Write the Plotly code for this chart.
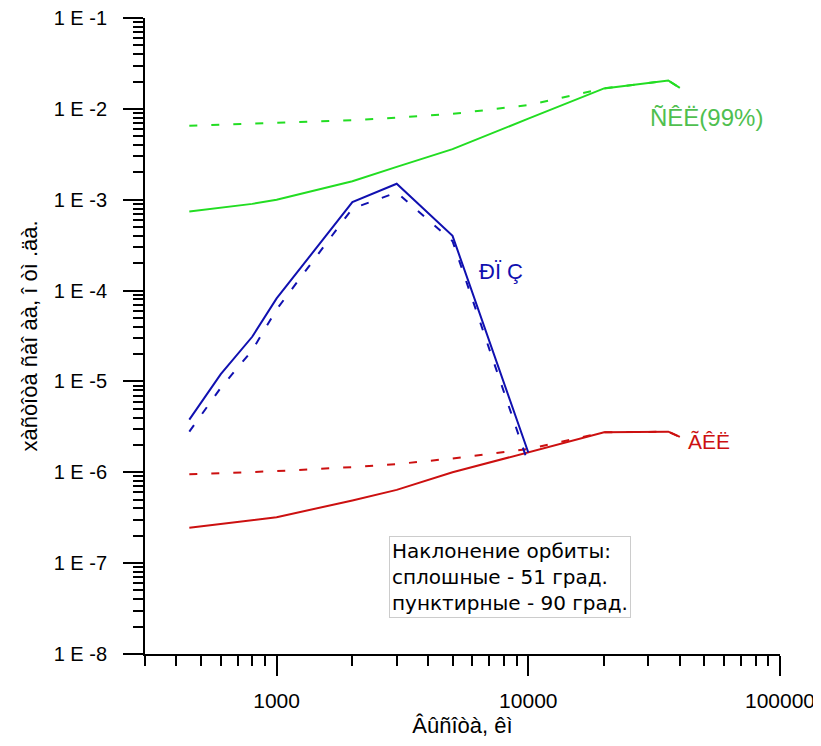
import plotly.graph_objects as go
import numpy as np

# Altitude, km
alt = [450, 600, 800, 1000, 2000, 3000, 5000, 10000, 20000, 36000, 40000]
alt_short = [450, 600, 800, 1000, 2000, 3000, 5000, 10000]
alt_dash_g = [450, 1000, 2000, 3000, 5000, 10000, 20000, 36000, 40000]

# Green (SKL 99%)
green_51 = [7.4e-4, 8.2e-4, 9.0e-4, 1.0e-3, 1.6e-3, 2.3e-3, 3.6e-3, 7.8e-3, 1.68e-2, 2.05e-2, 1.7e-2]
green_90 = [6.5e-3, 7.0e-3, 7.5e-3, 8.0e-3, 8.8e-3, 1.1e-2, 1.68e-2, 2.05e-2, 1.7e-2]
# Red (GKL)
red_51 = [2.45e-7, 2.7e-7, 2.95e-7, 3.2e-7, 4.9e-7, 6.4e-7, 1.0e-6, 1.65e-6, 2.75e-6, 2.8e-6, 2.45e-6]
red_90 = [9.5e-7, 1.03e-6, 1.14e-6, 1.23e-6, 1.42e-6, 1.8e-6, 2.75e-6, 2.8e-6, 2.45e-6]
# Blue (RPZ)
blue_51 = [3.8e-6, 1.2e-5, 3.1e-5, 8.2e-5, 9.4e-4, 1.5e-3, 4.0e-4, 1.65e-6]
blue_90 = [2.8e-6, 8.5e-6, 2.2e-5, 6.2e-5, 8.0e-4, 1.2e-3, 3.5e-4, 1.25e-6]

y_tickvals = [1e-8, 1e-7, 1e-6, 1e-5, 1e-4, 1e-3, 1e-2, 1e-1]
y_ticktext = ["1 E -8", "1 E -7", "1 E -6", "1 E -5", "1 E -4", "1 E -3", "1 E -2", "1 E -1"]
x_tickvals = [1000, 10000, 100000]
x_ticktext = ["1000", "10000", "100000"]

GREEN = "#22dd22"
GREEN_T = "#4fbf4f"
BLUE = "#1010b0"
RED = "#cc1010"
DASH = "8px,14px"
NARROW = "Liberation Sans Narrow, Arial Narrow, Liberation Sans, sans-serif"

fig = go.Figure()
fig.add_trace(go.Scatter(x=alt_dash_g, y=green_90, mode="lines", line=dict(color=GREEN, width=2, dash=DASH)))
fig.add_trace(go.Scatter(x=alt, y=green_51, mode="lines", line=dict(color=GREEN, width=2)))
fig.add_trace(go.Scatter(x=alt_dash_g, y=red_90, mode="lines", line=dict(color=RED, width=2, dash=DASH)))
fig.add_trace(go.Scatter(x=alt, y=red_51, mode="lines", line=dict(color=RED, width=2)))
fig.add_trace(go.Scatter(x=alt_short, y=blue_90, mode="lines", line=dict(color=BLUE, width=2, dash=DASH)))
fig.add_trace(go.Scatter(x=alt_short, y=blue_51, mode="lines", line=dict(color=BLUE, width=2)))

fig.update_layout(
    width=813, height=730,
    margin=dict(l=137, r=41, t=10, b=84),
    paper_bgcolor="white", plot_bgcolor="white",
    showlegend=False,
    font=dict(family=NARROW, color="black"),
)
fig.update_xaxes(
    type="log", range=[np.log10(300), 5], automargin=False, ticklabeloverflow="allow",
    showgrid=False, zeroline=False,
    showline=True, linecolor="black", linewidth=2,
    ticks="outside", ticklen=20, tickwidth=2, tickcolor="black",
    tickvals=x_tickvals, ticktext=x_ticktext,
    tickfont=dict(size=21, family=NARROW),
    ticklabelstandoff=7,
    minor=dict(ticks="outside", ticklen=10, tickwidth=2, tickcolor="black", dtick="D1", showgrid=False),
    title=dict(text="Âûñîòà, êì", font=dict(size=22, family=NARROW), standoff=14),
)
fig.update_yaxes(
    type="log", range=[-8, -1], automargin=False, ticklabeloverflow="allow",
    showgrid=False, zeroline=False,
    showline=True, linecolor="black", linewidth=2,
    ticks="outside", ticklen=20, tickwidth=2, tickcolor="black",
    tickvals=y_tickvals, ticktext=y_ticktext,
    tickfont=dict(size=20, family=NARROW),
    ticklabelstandoff=12,
    minor=dict(ticks="outside", ticklen=10, tickwidth=2, tickcolor="black", dtick="D1", showgrid=False),
    title=dict(text="xàñòîòà ñàî àà, î òì .äà.", font=dict(size=22, family=NARROW), standoff=10),
)

fig.add_annotation(x=np.log10(51000), y=-2.1, xref="x", yref="y", text="ÑÊË(99%)", showarrow=False,
                   font=dict(size=24, color=GREEN_T, family=NARROW))
fig.add_annotation(x=np.log10(52000), y=-5.656, xref="x", yref="y", text="ÃÊË", showarrow=False,
                   font=dict(size=21, color=RED, family=NARROW))
fig.add_annotation(x=np.log10(7800), y=-3.785, xref="x", yref="y", text="ÐÏ Ç", showarrow=False,
                   font=dict(size=22, color=BLUE, family=NARROW))
fig.add_annotation(x=0.5746, y=0.121, xref="paper", yref="paper", xanchor="center", yanchor="middle",
                   text="Наклонение орбиты:<br>сплошные - 51 град.<br>пунктирные - 90 град.",
                   showarrow=False, align="left", bgcolor="white", bordercolor="#cccccc", borderwidth=1,
                   borderpad=2, font=dict(size=20, family="DejaVu Sans, Liberation Sans, sans-serif", color="black"))

fig.write_html("out.html")
